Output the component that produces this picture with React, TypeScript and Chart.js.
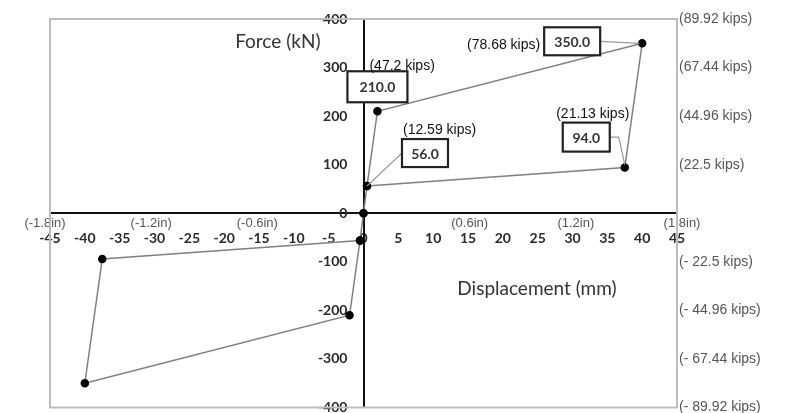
import React, { useEffect, useRef } from "react";
import { Chart, registerables } from "chart.js";

Chart.register(...registerables);

// ---- Data ----
const posDisplacement = [0, 0.5, 2, 40, 37.5, 0.5];
const posForce = [0, 56, 210, 350, 94, 56];
const negDisplacement = [0, -0.5, -2, -40, -37.5, -0.5];
const negForce = [0, -56, -210, -350, -94, -56];

const kipsTickValues = [400, 300, 200, 100, -100, -200, -300, -400];
const kipsTickLabels = [
  "(89.92 kips)",
  "(67.44 kips)",
  "(44.96 kips)",
  "(22.5 kips)",
  "(- 22.5 kips)",
  "(- 44.96 kips)",
  "(- 67.44 kips)",
  "(- 89.92 kips)",
];
const inchTickValues = [-1.8, -1.2, -0.6, 0.6, 1.2, 1.8];
const inchTickLabels = ["(-1.8in)", "(-1.2in)", "(-0.6in)", "(0.6in)", "(1.2in)", "(1.8in)"];
const mmPerInch = 25.4;

// callouts on the positive cycle (point index -> label)
const calloutIndex = [1, 2, 3, 4];
const calloutValue = ["56.0", "210.0", "350.0", "94.0"];
const calloutKips = ["(12.59 kips)", "(47.2 kips)", "(78.68 kips)", "(21.13 kips)"];

const yAxisTitle = "Force (kN)";
const xAxisTitle = "Displacement (mm)";

// ---- Styles (pixel offsets / sizes) ----
const calloutStyle = [
  { dx: 58, dy: -33, w: 46, h: 28, kx: -22, ky: -23, kAlign: "left", leader: "left" },
  { dx: 0, dy: -24.5, w: 60, h: 31, kx: -8, ky: -20.5, kAlign: "left", leader: "none" },
  { dx: -70, dy: -2, w: 56, h: 28, kx: -32, ky: 4, kAlign: "right", leader: "right" },
  { dx: -38.5, dy: -30.5, w: 47, h: 29, kx: 6.5, ky: -22.5, kAlign: "center", leader: "elbow" },
];
const titlePos = {
  y: { x: -12.3, v: 352 },
  x: { x: 24.9, v: -155 },
};
const yLabelAnchor = -2.3; // x value where y tick labels end (right-aligned)

const tickFont = { family: "Lato, 'Open Sans', sans-serif", size: 14, weight: "bold" as const };
const tickColor = "#2a2a2a";
const sideFont = { family: "'Liberation Sans', Arial, sans-serif", size: 14 };
const sideColor = "#555";

const framePlugin = {
  id: "frame",
  beforeDatasetsDraw(chart: any) {
    const { ctx, chartArea } = chart;
    ctx.save();
    ctx.strokeStyle = "#bdbdbd";
    ctx.lineWidth = 2;
    ctx.strokeRect(chartArea.left, chartArea.top, chartArea.right - chartArea.left, chartArea.bottom - chartArea.top);
    const xs = chart.scales.x;
    const ys = chart.scales.y;
    ctx.fillStyle = "#333";
    ctx.font = "19px Lato, 'Open Sans', sans-serif";
    ctx.textAlign = "center";
    ctx.textBaseline = "middle";
    ctx.fillText(yAxisTitle, xs.getPixelForValue(titlePos.y.x), ys.getPixelForValue(titlePos.y.v));
    ctx.fillText(xAxisTitle, xs.getPixelForValue(titlePos.x.x), ys.getPixelForValue(titlePos.x.v));
    ctx.restore();
  },
};

const calloutPlugin = {
  id: "callouts",
  afterDatasetsDraw(chart: any) {
    const { ctx } = chart;
    const meta = chart.getDatasetMeta(0);
    ctx.save();
    calloutIndex.forEach((idx, i) => {
      const el = meta.data[idx];
      if (!el) return;
      const px = el.x;
      const py = el.y;
      const st = calloutStyle[i];
      const cx = px + st.dx;
      const cy = py + st.dy;
      const left = cx - st.w / 2;
      const right = cx + st.w / 2;
      const top = cy - st.h / 2;
      ctx.strokeStyle = "#9a9a9a";
      ctx.lineWidth = 1.2;
      ctx.beginPath();
      if (st.leader === "left") {
        ctx.moveTo(left, cy);
        ctx.lineTo(px, py);
      } else if (st.leader === "right") {
        ctx.moveTo(right, cy);
        ctx.lineTo(px - 3, py);
      } else if (st.leader === "elbow") {
        ctx.moveTo(right, cy);
        ctx.lineTo(right + 9, cy);
        ctx.lineTo(px, py - 3);
      }
      ctx.stroke();
      ctx.fillStyle = "#fff";
      ctx.fillRect(left, top, st.w, st.h);
      ctx.strokeStyle = "#222";
      ctx.lineWidth = 2.2;
      ctx.strokeRect(left, top, st.w, st.h);
      ctx.fillStyle = "#333";
      ctx.font = "bold 14px Lato, 'Open Sans', sans-serif";
      ctx.textAlign = "center";
      ctx.textBaseline = "middle";
      ctx.fillText(calloutValue[i], cx, cy + 1);
      ctx.fillStyle = "#111";
      ctx.font = "14px 'Liberation Sans', Arial, sans-serif";
      ctx.textAlign = st.kAlign;
      ctx.fillText(calloutKips[i], cx + st.kx, cy + st.ky);
    });
    ctx.restore();
  },
};

export default function App() {
  const ref = useRef<HTMLCanvasElement | null>(null);

  useEffect(() => {
    if (!ref.current) return;
    const lineStyle = {
      showLine: true,
      borderColor: "#808080",
      borderWidth: 1.5,
      pointBackgroundColor: "#000",
      pointBorderColor: "#000",
      pointRadius: 3.5,
      fill: false,
      tension: 0,
    };
    const zeroW = (s: any) => {
      s.width = 0;
      s.paddingTop = 0;
      s.paddingBottom = 0;
    };
    const zeroH = (s: any) => {
      s.height = 0;
      s.paddingLeft = 0;
      s.paddingRight = 0;
    };
    const chart = new Chart(ref.current, {
      type: "scatter",
      data: {
        datasets: [
          {
            label: "Positive cycle",
            data: posDisplacement.map((x, i) => ({ x, y: posForce[i] })),
            ...lineStyle,
          },
          {
            label: "Negative cycle",
            data: negDisplacement.map((x, i) => ({ x, y: negForce[i] })),
            ...lineStyle,
          },
        ],
      },
      options: {
        responsive: false,
        animation: false,
        layout: { padding: { left: 50, top: 19, right: 0, bottom: 3 } },
        plugins: { legend: { display: false }, tooltip: { enabled: false } },
        scales: {
          x: {
            type: "linear",
            min: -45,
            max: 45,
            position: { y: 0 } as any,
            ticks: { stepSize: 5, font: tickFont, color: tickColor, padding: 9, autoSkip: false, maxRotation: 0 },
            grid: { display: false },
            border: { display: true, color: "#111", width: 2 },
            afterFit: zeroH,
          },
          xInch: {
            type: "linear",
            min: -45 / mmPerInch,
            max: 45 / mmPerInch,
            position: { y: 0 } as any,
            afterBuildTicks: (s: any) => {
              s.ticks = inchTickValues.map((v) => ({ value: v }));
            },
            ticks: {
              font: { family: "'Liberation Sans', Arial, sans-serif", size: 13 },
              color: sideColor,
              padding: -6,
              autoSkip: false,
              maxRotation: 0,
              callback: (v: any) => {
                const i = inchTickValues.indexOf(Number(v));
                return i >= 0 ? inchTickLabels[i] : "";
              },
            },
            grid: { display: false },
            border: { display: false },
            afterFit: zeroH,
          },
          y: {
            type: "linear",
            min: -400,
            max: 400,
            position: { x: 0 } as any,
            ticks: { display: false, stepSize: 100 },
            grid: { display: false },
            border: { display: true, color: "#111", width: 2 },
            afterFit: zeroW,
          },
          yLabels: {
            type: "linear",
            min: -400,
            max: 400,
            position: { x: yLabelAnchor } as any,
            ticks: { stepSize: 100, font: tickFont, color: tickColor, padding: 0 },
            grid: { display: false },
            border: { display: false },
            afterFit: zeroW,
          },
          y2: {
            type: "linear",
            min: -400,
            max: 400,
            position: "right",
            afterBuildTicks: (s: any) => {
              s.ticks = kipsTickValues.map((v) => ({ value: v }));
            },
            ticks: {
              font: sideFont,
              color: sideColor,
              padding: -6,
              autoSkip: false,
              callback: (v: any) => {
                const i = kipsTickValues.indexOf(Number(v));
                return i >= 0 ? kipsTickLabels[i] : "";
              },
            },
            grid: { display: false },
            border: { display: false },
            afterFit: (s: any) => {
              s.width = 112;
              s.paddingTop = 0;
              s.paddingBottom = 0;
            },
          },
        },
      },
      plugins: [framePlugin, calloutPlugin],
    } as any);
    return () => chart.destroy();
  }, []);

  return (
    <div style={{ position: "absolute", left: 0, top: 0, width: 789, height: 413, background: "#fff" }}>
      <canvas ref={ref} width={789} height={413} style={{ display: "block" }} />
    </div>
  );
}
